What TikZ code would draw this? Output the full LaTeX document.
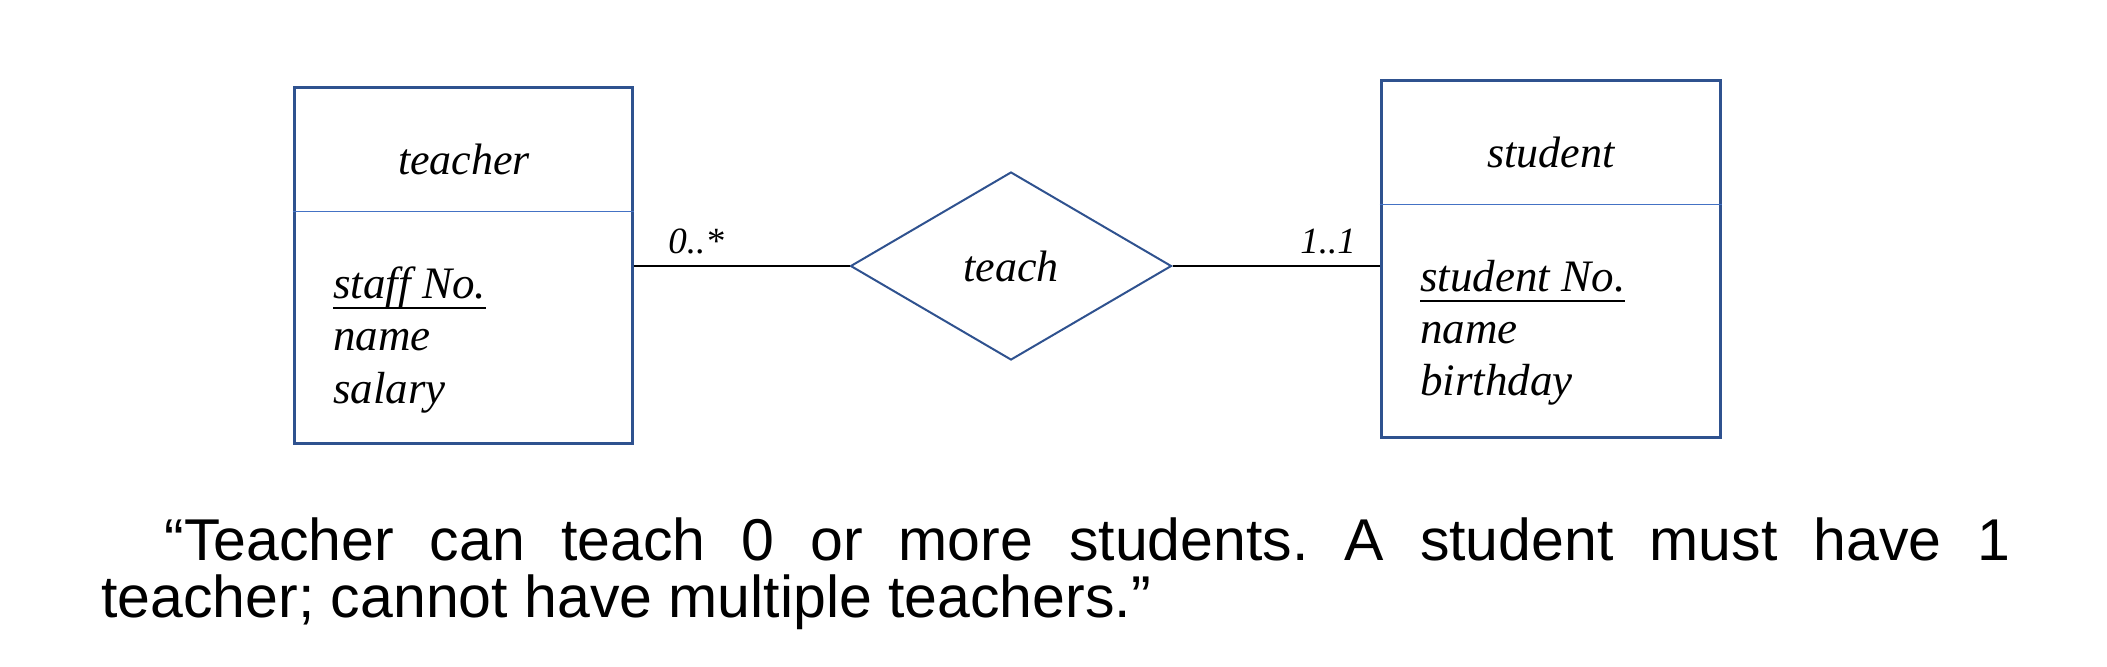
\documentclass[tikz,border=0pt]{standalone}
\usepackage{fontspec}
\setmainfont{Liberation Serif}
\newfontfamily\capfont{Liberation Sans}
\usetikzlibrary{shapes.geometric}
\definecolor{boxblue}{RGB}{47,82,143}
\definecolor{divblue}{RGB}{68,114,196}
\newcommand\myul[1]{\setbox0=\hbox{#1}\rlap{\rule[-5.5pt]{\wd0}{1pt}}\box0}
\begin{document}
\begin{tikzpicture}[x=0.5pt,y=-0.5pt,
  entity/.style={draw=boxblue,line width=1.5pt,inner sep=0pt,minimum width=169pt,minimum height=178pt},
  rel/.style={diamond,draw=boxblue,line width=1pt,inner sep=0pt,minimum width=160.5pt,minimum height=94pt,font=\fontsize{22}{26}\selectfont\itshape},
  divider/.style={draw=divblue,line width=0.5pt},
  conn/.style={draw=black,line width=0.75pt},
  title/.style={anchor=base,inner sep=0pt,font=\fontsize{22}{26}\selectfont\itshape},
  attr/.style={anchor=base west,inner sep=0pt,font=\fontsize{22.5}{27}\selectfont\itshape},
  mult/.style={anchor=base west,inner sep=0pt,font=\fontsize{18.5}{22}\selectfont\itshape},
  captext/.style={anchor=base west,inner sep=0pt,font=\capfont\fontsize{29.5}{29.5}\selectfont}]
\useasboundingbox (0,0) rectangle (2107,666);
% entities
\node[entity] (teacher) at (463,265) {};
\node[entity,minimum width=169.5pt,minimum height=178.5pt] (student) at (1550.5,258.5) {};
% dividers
\coordinate (tdl) at (294,211); \coordinate (tdr) at (632,211);
\coordinate (sdl) at (1381,204); \coordinate (sdr) at (1720,204);
\draw[divider] (tdl -| teacher.west) -- (tdr -| teacher.east);
\draw[divider] (sdl -| student.west) -- (sdr -| student.east);
% titles and attributes
\node[title] (tt) at (464,174) {teacher};
\node[attr] (t1) at (333,298) {\myul{staff No.}};
\node[attr] (t2) at (333,350) {name};
\node[attr] (t3) at (333,403) {salary};
\node[title] (st) at (1551,167) {student};
\node[attr] (s1) at (1420,291) {\myul{student No.}};
\node[attr] (s2) at (1420,343) {name};
\node[attr] (s3) at (1420,395) {birthday};
% relationship
\node[rel] (teach) at (1011,266) {teach};
% connectors
\draw[conn] (teach.west -| teacher.east) -- (teach.west);
\draw[conn] (teach.east) -- (teach.east -| student.west);
% multiplicities
\node[mult] (m1) at (668,253) {0..*};
\node[mult] (m2) at (1300,253) {1..1};
% caption
\node[captext] (c1) at (164,560) {\makebox[923pt][s]{“Teacher\hfill can\hfill teach\hfill 0\hfill or\hfill more\hfill students.\hfill A\hfill student\hfill must\hfill have\hfill 1}};
\node[captext] (c2) at (101,617) {teacher; cannot have multiple teachers.”};
\end{tikzpicture}
\end{document}
